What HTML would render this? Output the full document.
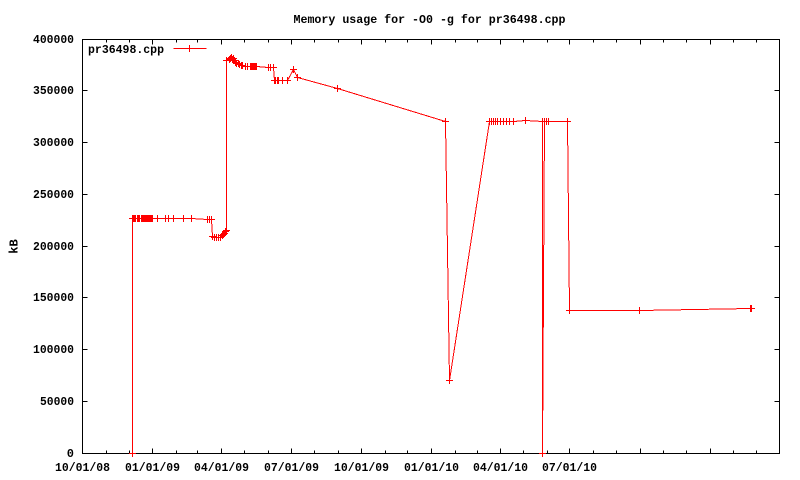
<!DOCTYPE html>
<html><head><meta charset="utf-8"><style>
html,body{margin:0;padding:0;background:#fff;}
svg{display:block;}
text{font-family:"Liberation Mono","DejaVu Sans Mono",monospace;font-weight:bold;font-size:12px;fill:#000;}
</style></head><body>
<svg width="800" height="480" viewBox="0 0 800 480" xmlns="http://www.w3.org/2000/svg" shape-rendering="crispEdges">
<defs>
<marker id="p" markerUnits="userSpaceOnUse" markerWidth="10" markerHeight="10" refX="0" refY="0" overflow="visible" orient="0">
<path d="M-3.5 0H3.5M0 -3.5V3.5" stroke="#f00" stroke-width="1" fill="none"/>
</marker>
</defs>
<rect x="0" y="0" width="800" height="480" fill="#fff"/>
<text x="429.5" y="23" text-anchor="middle" textLength="272" lengthAdjust="spacingAndGlyphs">Memory usage for -O0 -g for pr36498.cpp</text>
<text transform="translate(17.5,246.5) rotate(-90)" text-anchor="middle">kB</text>
<rect x="82.5" y="39.5" width="697" height="414" fill="none" stroke="#000" stroke-width="1"/>
<g stroke="#000" stroke-width="1">
<path d="M82.5 401.5h5M82.5 349.5h5M82.5 297.5h5M82.5 246.5h5M82.5 194.5h5M82.5 142.5h5M82.5 90.5h5"/>
<path d="M779.5 401.5h-5M779.5 349.5h-5M779.5 297.5h-5M779.5 246.5h-5M779.5 194.5h-5M779.5 142.5h-5M779.5 90.5h-5"/>
<path d="M152.5 453.5v-5M221.5 453.5v-5M291.5 453.5v-5M361.5 453.5v-5M431.5 453.5v-5M500.5 453.5v-5M569.5 453.5v-5M640.5 453.5v-5M710.5 453.5v-5"/>
<path d="M152.5 39.5v5M221.5 39.5v5M291.5 39.5v5M361.5 39.5v5M431.5 39.5v5M500.5 39.5v5M569.5 39.5v5M640.5 39.5v5M710.5 39.5v5"/>
<path d="M106.5 453.5v-3M129.5 453.5v-3M176.5 453.5v-3M197.5 453.5v-3M244.5 453.5v-3M268.5 453.5v-3M314.5 453.5v-3M338.5 453.5v-3M385.5 453.5v-3M407.5 453.5v-3M455.5 453.5v-3M477.5 453.5v-3M523.5 453.5v-3M547.5 453.5v-3M593.5 453.5v-3M616.5 453.5v-3M663.5 453.5v-3M686.5 453.5v-3M733.5 453.5v-3M756.5 453.5v-3"/>
<path d="M106.5 39.5v3M129.5 39.5v3M176.5 39.5v3M197.5 39.5v3M244.5 39.5v3M268.5 39.5v3M314.5 39.5v3M338.5 39.5v3M385.5 39.5v3M407.5 39.5v3M455.5 39.5v3M477.5 39.5v3M523.5 39.5v3M547.5 39.5v3M593.5 39.5v3M616.5 39.5v3M663.5 39.5v3M686.5 39.5v3M733.5 39.5v3M756.5 39.5v3"/>
</g>
<g text-anchor="end">
<text x="74" y="457">0</text>
<text x="74" y="405" textLength="34" lengthAdjust="spacingAndGlyphs">50000</text>
<text x="74" y="353" textLength="41" lengthAdjust="spacingAndGlyphs">100000</text>
<text x="74" y="301" textLength="41" lengthAdjust="spacingAndGlyphs">150000</text>
<text x="74" y="250" textLength="41" lengthAdjust="spacingAndGlyphs">200000</text>
<text x="74" y="198" textLength="41" lengthAdjust="spacingAndGlyphs">250000</text>
<text x="74" y="146" textLength="41" lengthAdjust="spacingAndGlyphs">300000</text>
<text x="74" y="94" textLength="41" lengthAdjust="spacingAndGlyphs">350000</text>
<text x="74" y="43" textLength="41" lengthAdjust="spacingAndGlyphs">400000</text>
</g>
<g text-anchor="middle">
<text x="82.5" y="471" textLength="55" lengthAdjust="spacingAndGlyphs">10/01/08</text>
<text x="152.5" y="471" textLength="55" lengthAdjust="spacingAndGlyphs">01/01/09</text>
<text x="221.5" y="471" textLength="55" lengthAdjust="spacingAndGlyphs">04/01/09</text>
<text x="291.5" y="471" textLength="55" lengthAdjust="spacingAndGlyphs">07/01/09</text>
<text x="361.5" y="471" textLength="55" lengthAdjust="spacingAndGlyphs">10/01/09</text>
<text x="431.5" y="471" textLength="55" lengthAdjust="spacingAndGlyphs">01/01/10</text>
<text x="500.5" y="471" textLength="55" lengthAdjust="spacingAndGlyphs">04/01/10</text>
<text x="569.5" y="471" textLength="55" lengthAdjust="spacingAndGlyphs">07/01/10</text>
</g>
<text x="88" y="53" textLength="76" lengthAdjust="spacingAndGlyphs">pr36498.cpp</text>
<path d="M173.5 48.5H206.5M189.5 45V52" stroke="#f00" stroke-width="1" fill="none"/>
<polyline fill="none" stroke="#f00" stroke-width="1" marker-start="url(#p)" marker-mid="url(#p)" marker-end="url(#p)" points="132.5,453.5 132.5,218.5 133.5,218.5 134.5,218.5 135.5,218.5 137.5,218.5 138.5,218.5 139.5,218.5 141.5,218.5 142.5,218.5 143.5,218.5 144.5,218.5 145.5,218.5 146.5,218.5 147.5,218.5 148.5,218.5 149.5,218.5 150.5,218.5 151.5,218.5 152.5,218.5 157.5,218.5 165.5,218.5 168.5,218.5 173.5,218.5 183.5,218.5 191.5,218.5 207.5,219.5 209.5,219.5 211.5,219.5 212.5,236.5 214.5,237.5 216.5,237.5 218.5,237.5 220.5,237.5 222.5,235.5 223.5,234.5 224.5,233.5 225.5,231.5 226.5,230.5 226.5,60.5 229.5,59.5 230.5,58.5 231.5,57.5 232.5,59.5 233.5,58.5 234.5,60.5 235.5,62.5 236.5,63.5 238.5,63.5 239.5,64.5 241.5,65.5 242.5,65.5 245.5,66.5 247.5,66.5 250.5,66.5 251.5,66.5 252.5,66.5 253.5,66.5 254.5,66.5 255.5,66.5 256.5,66.5 268.5,67.5 270.5,67.5 273.5,67.5 274.5,80.5 275.5,80.5 277.5,80.5 278.5,80.5 282.5,80.5 287.5,80.5 293.5,69.5 297.5,77.5 337.5,88.5 445.5,121.5 449.5,380.5 489.5,121.5 491.5,121.5 493.5,121.5 495.5,121.5 497.5,121.5 500.5,121.5 503.5,121.5 506.5,121.5 509.5,121.5 513.5,121.5 525.5,120.5 542.5,121.5 542.5,453.5 544.5,121.5 546.5,121.5 548.5,121.5 567.5,121.5 569.5,310.5 639.5,310.5 750.5,308.5 751.5,308.5"/>
</svg>
</body></html>
